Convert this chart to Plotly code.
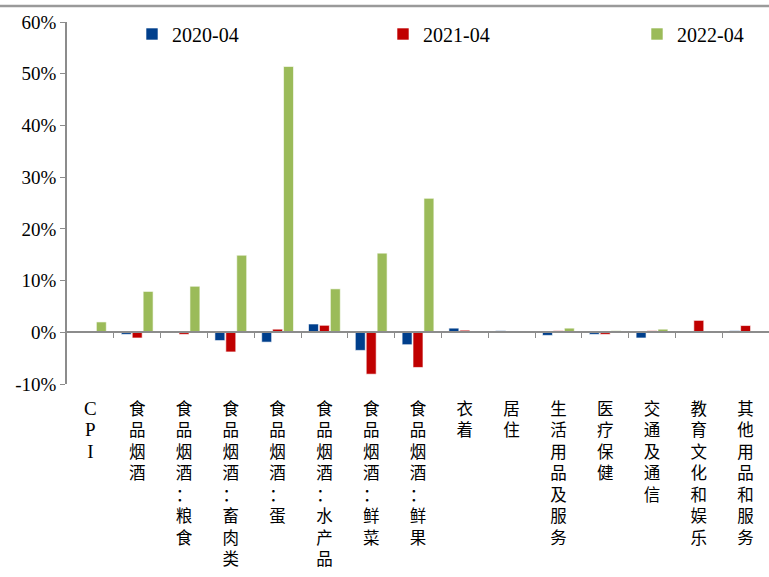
import plotly.graph_objects as go

categories = ["CPI", "食品烟酒", "食品烟酒：粮食", "食品烟酒：畜肉类", "食品烟酒：蛋",
              "食品烟酒：水产品", "食品烟酒：鲜菜", "食品烟酒：鲜果", "衣着", "居住",
              "生活用品及服务", "医疗保健", "交通及通信", "教育文化和娱乐", "其他用品和服务"]
series_names = ["2020-04", "2021-04", "2022-04"]
v2020 = [0.1, -0.4, 0.1, -1.6, -1.9, 1.6, -3.5, -2.4, 0.8, 0.3, -0.6, -0.4, -1.1, 0.1, 0.3]
v2021 = [0.1, -1.1, -0.4, -3.8, 0.6, 1.35, -8.1, -6.8, 0.4, -0.1, 0.3, -0.4, 0.3, 2.3, 1.3]
v2022 = [2.0, 7.9, 8.9, 14.9, 51.4, 8.4, 15.3, 25.9, 0.1, 0.2, 0.8, 0.3, 0.6, 0.1, 0.1]
colors = ["#003F8C", "#C00000", "#9BBB59"]
yticks = [-10, 0, 10, 20, 30, 40, 50, 60]
yticktext = [f"{v}%" for v in yticks]

def vlabel(s):
    if s.isascii():
        return "<br>".join(f"<span style='font-size:19px'>{ch}</span>" for ch in s)
    return "<br>".join(list(s))

xlabels = [vlabel(c) for c in categories]

fig = go.Figure()
legend_ids = ["legend", "legend2", "legend3"]
for name, vals, col, lg in zip(series_names, [v2020, v2021, v2022], colors, legend_ids):
    fig.add_trace(go.Bar(x=xlabels, y=vals, name=name, legend=lg,
                         marker=dict(color=col, line=dict(color="white", width=0.6))))

n = len(categories)
fig.add_trace(go.Scatter(x=[-0.5, n - 0.5], y=[0, 0], xaxis="x2", mode="lines",
                         line=dict(width=0, color="rgba(0,0,0,0)"),
                         hoverinfo="skip", showlegend=False))

serif = "Liberation Serif, Noto Sans CJK SC"
leg_common = dict(orientation="h", xanchor="left", y=(384 - 34) / 362, yanchor="middle",
                  font=dict(family="Liberation Serif", size=20), bgcolor="rgba(0,0,0,0)")
fig.update_layout(
    width=769, height=577,
    margin=dict(l=67, r=0, t=22, b=193),
    plot_bgcolor="white", paper_bgcolor="white",
    barmode="group", bargap=0.3, bargroupgap=0.09,
    font=dict(family=serif, color="black", size=17),
    legend=dict(x=(132 - 67) / 702, **leg_common),
    legend2=dict(x=(383 - 67) / 702, **leg_common),
    legend3=dict(x=(637 - 67) / 702, **leg_common),
    xaxis=dict(type="category", showline=False, showgrid=False, ticks="outside",
               ticklen=10, tickcolor="rgba(0,0,0,0)", tickangle=0, automargin=False,
               tickfont=dict(family=serif, size=16.5)),
    xaxis2=dict(overlaying="x", anchor="free", position=10 / 70, range=[-0.5, n - 0.5],
                tickmode="array", tickvals=[i + 0.5 for i in range(n - 1)],
                showticklabels=False, ticks="outside", ticklen=5, tickcolor="#8C8C8C",
                showline=True, linecolor="#8C8C8C", linewidth=1.5, showgrid=False,
                zeroline=False, automargin=False),
    yaxis=dict(range=[-10, 60], tickmode="array", tickvals=yticks, ticktext=yticktext,
               showgrid=False, automargin=False,
               zeroline=False, showline=True, linecolor="#8C8C8C", linewidth=1.5,
               ticks="outside", ticklen=5, tickcolor="#8C8C8C",
               tickfont=dict(family="Liberation Serif", size=19)),
    shapes=[dict(type="line", xref="paper", yref="paper", x0=-0.1, x1=1.0,
                 y0=(384 - 6) / 362, y1=(384 - 6) / 362, layer="above",
                 line=dict(color="#9A9A9A", width=2.5))],
)

fig.write_html("out.html", config={"displayModeBar": False},
               post_script="document.body.style.margin='0';document.body.style.overflow='hidden';")
